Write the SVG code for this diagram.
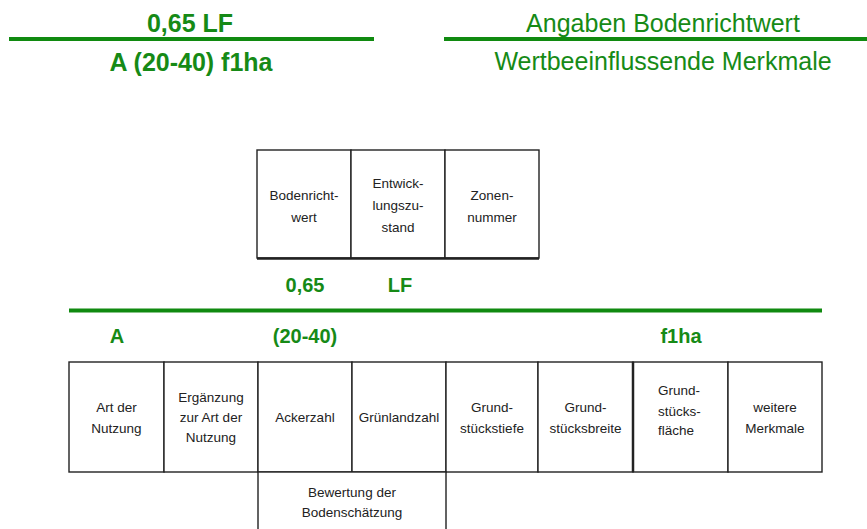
<svg xmlns="http://www.w3.org/2000/svg" width="867" height="529" viewBox="0 0 867 529">
<style>
.g{fill:#168a16;font-family:"Liberation Sans",Arial,sans-serif;}
.b{font-weight:bold;}
.big{font-size:25px;}
.mid{font-size:20px;}
.gl{stroke:#108a10;stroke-width:4;fill:none;}
.cell{fill:#fff;stroke:#222;stroke-width:1.4;}
.t{font-family:"Liberation Sans",Arial,sans-serif;font-size:13.5px;fill:#222;text-anchor:middle;}
.ts{text-anchor:start;}
</style>
<rect width="867" height="529" fill="#fff"/>
<g id="header-left">
<line class="gl" x1="9" y1="39" x2="374" y2="39"/>
<text class="g b big" x="190" y="32" text-anchor="middle">0,65 LF</text>
<text class="g b big" x="191" y="71" text-anchor="middle">A (20-40) f1ha</text>
</g>
<g id="header-right">
<line class="gl" x1="444" y1="39" x2="867" y2="39"/>
<text class="g big" x="663" y="32" text-anchor="middle">Angaben Bodenrichtwert</text>
<text class="g big" x="663" y="70" text-anchor="middle">Wertbeeinflussende Merkmale</text>
</g>
<g id="upper-table">
<g id="bodenrichtwert">
<rect class="cell" x="257" y="150" width="94" height="108"/>
<text class="t" x="304" y="200">Bodenricht-</text>
<text class="t" x="304" y="222">wert</text>
</g>
<g id="entwicklungszustand">
<rect class="cell" x="351" y="150" width="94" height="108"/>
<text class="t" x="398" y="188">Entwick-</text>
<text class="t" x="398" y="210">lungszu-</text>
<text class="t" x="398" y="232">stand</text>
</g>
<g id="zonennummer">
<rect class="cell" x="445" y="150" width="94" height="108"/>
<text class="t" x="492" y="200">Zonen-</text>
<text class="t" x="492" y="222">nummer</text>
</g>
<line x1="257" y1="258.5" x2="539" y2="258.5" stroke="#222" stroke-width="2.5"/>
</g>
<g id="values-upper">
<text class="g b mid" x="305" y="292" text-anchor="middle">0,65</text>
<text class="g b mid" x="400" y="292" text-anchor="middle">LF</text>
</g>
<g id="divider">
<line class="gl" x1="69" y1="310.5" x2="822" y2="310.5"/>
</g>
<g id="values-lower">
<text class="g b mid" x="117" y="343" text-anchor="middle">A</text>
<text class="g b mid" x="305" y="343" text-anchor="middle">(20-40)</text>
<text class="g b mid" x="681" y="343" text-anchor="middle">f1ha</text>
</g>
<g id="lower-table">
<g id="art-der-nutzung">
<rect class="cell" x="69" y="362" width="95" height="110"/>
<text class="t" x="116.5" y="412">Art der</text>
<text class="t" x="116.5" y="433">Nutzung</text>
</g>
<g id="ergaenzung">
<rect class="cell" x="164" y="362" width="94" height="110"/>
<text class="t" x="211" y="402">Ergänzung</text>
<text class="t" x="211" y="422">zur Art der</text>
<text class="t" x="211" y="442">Nutzung</text>
</g>
<g id="ackerzahl">
<rect class="cell" x="258" y="362" width="94" height="110"/>
<text class="t" x="305" y="422">Ackerzahl</text>
</g>
<g id="gruenlandzahl">
<rect class="cell" x="352" y="362" width="94" height="110"/>
<text class="t" x="399" y="422">Grünlandzahl</text>
</g>
<g id="grundstueckstiefe">
<rect class="cell" x="446" y="362" width="92" height="110"/>
<text class="t" x="492" y="412">Grund-</text>
<text class="t" x="492" y="433">stückstiefe</text>
</g>
<g id="grundstuecksbreite">
<rect class="cell" x="538" y="362" width="95" height="110"/>
<text class="t" x="585.5" y="412">Grund-</text>
<text class="t" x="585.5" y="433">stücksbreite</text>
</g>
<g id="grundstuecksflaeche">
<rect class="cell" x="633" y="362" width="95" height="110"/>
<line x1="633" y1="362" x2="633" y2="472" stroke="#222" stroke-width="2.5"/>
<text class="t ts" x="658" y="395">Grund-</text>
<text class="t ts" x="658" y="416">stücks-</text>
<text class="t ts" x="658" y="435">fläche</text>
</g>
<g id="weitere-merkmale">
<rect class="cell" x="728" y="362" width="94" height="110"/>
<text class="t" x="775" y="412">weitere</text>
<text class="t" x="775" y="433">Merkmale</text>
</g>
<g id="bewertung">
<rect class="cell" x="258" y="472" width="188" height="70"/>
<text class="t" x="352" y="497">Bewertung der</text>
<text class="t" x="352" y="517">Bodenschätzung</text>
</g>
</g>
</svg>
